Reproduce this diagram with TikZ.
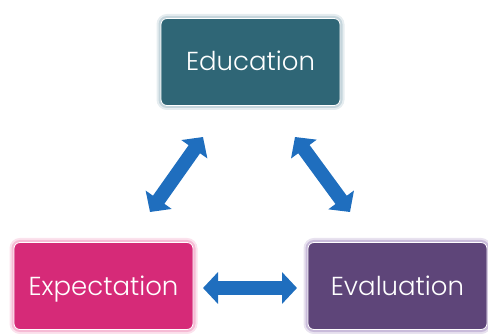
\documentclass[tikz,border=0pt]{standalone}
\usepackage{fontspec}
\setmainfont{Poppins}[UprightFont=* Light]
\usetikzlibrary{arrows.meta}
\definecolor{eduteal}{HTML}{2F6676}
\definecolor{expink}{HTML}{D62A78}
\definecolor{evpurple}{HTML}{5E4579}
\definecolor{arrowblue}{HTML}{1F6EBE}
\definecolor{eduglow}{HTML}{9DB8C4}
\definecolor{expglow}{HTML}{F08CB8}
\definecolor{evglow}{HTML}{A48CC0}
\tikzset{
  box/.style={rounded corners=6pt, minimum width=179pt, minimum height=87pt,
    inner sep=0pt, draw=white, line width=0.8pt, text=white,
    text height=18pt, text depth=0pt,
    font=\fontsize{26}{30}\selectfont},
  halo/.style={preaction={draw=#1, line width=9pt, opacity=0.25},
    preaction={draw=#1, line width=5pt, opacity=0.45}},
  blockarrow/.style={draw=arrowblue, line width=14pt,
    {Triangle[length=15pt,width=31pt]}-{Triangle[length=15pt,width=31pt]}}
}
\begin{document}
\begin{tikzpicture}[x=1pt,y=-1pt]
  \useasboundingbox (0,0) rectangle (488,334);
  % the three boxes
  \node[box, halo=eduglow, fill=eduteal] (edu) at (250.5,62) {Education};
  \node[box, halo=expglow, fill=expink] (exp) at (103.5,286) {Expectation};
  \node[box, halo=evglow, fill=evpurple] (eva) at (397.5,286) {Evaluation};
  % arrow end points between the boxes
  \coordinate (l1) at (150,212);
  \coordinate (l2) at (203,137);
  \coordinate (r1) at (295,137);
  \coordinate (r2) at (350,212);
  \coordinate (h1) at (203,288);
  \coordinate (h2) at (297,288);
  % two-headed block arrows
  \draw[blockarrow] (l1) -- (l2);
  \draw[blockarrow] (r1) -- (r2);
  \draw[blockarrow] (h1) -- (h2);
\end{tikzpicture}
\end{document}
